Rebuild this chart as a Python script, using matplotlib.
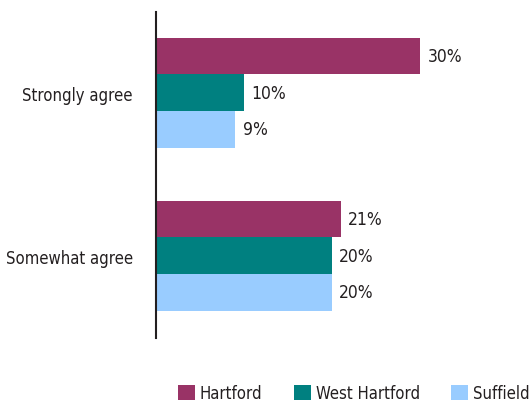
import matplotlib
matplotlib.use("Agg")
import matplotlib.pyplot as plt
import numpy as np
from matplotlib.patches import Patch

categories = ["Strongly agree", "Somewhat agree"]
series_names = ["Hartford", "West Hartford", "Suffield"]
hartford = [30, 21]
west_hartford = [10, 20]
suffield = [9, 20]
colors = ["#993366", "#008080", "#99ccff"]

plt.rcParams['font.family'] = ['DejaVu Sans']
plt.rcParams['font.stretch'] = 'condensed'
txt = "#231f20"
fs = 12

fig = plt.figure(figsize=(5.30, 4.02), dpi=100)
ax = fig.add_axes([155.7/530, 1-339/402, 352/530, 326/402])

y = np.arange(len(categories))
h = 0.225
for i, (vals, name, c) in enumerate(zip([hartford, west_hartford, suffield], series_names, colors)):
    pos = y + (i - 1) * h
    bars = ax.barh(pos, vals, height=h, color=c, label=name)
    for b, v in zip(bars, vals):
        ax.text(v + 0.87, b.get_y() + b.get_height()/2, f"{v}%", va='center', ha='left',
                fontsize=fs + 0.5, color=txt, fontstretch='condensed')

ax.set_xlim(0, 40)
ax.set_ylim(1.506, -0.494)
ax.set_yticks(y)
ax.set_yticklabels(categories, fontsize=fs, color=txt, fontstretch='condensed')
ax.tick_params(axis='y', length=0, pad=16.5)
ax.set_xticks([])
for s in ['top', 'right', 'bottom']:
    ax.spines[s].set_visible(False)
ax.spines['left'].set_color('#231f20')
ax.spines['left'].set_linewidth(1.5)

handles = [Patch(facecolor=c, edgecolor='none') for c in colors]
leg = fig.legend(handles, series_names, loc='lower left', bbox_to_anchor=(178/530, -1/402),
           ncol=3, frameon=False, handlelength=1.0, handleheight=1.0,
           handletextpad=0.3, columnspacing=1.9, labelcolor=txt,
           borderpad=0, borderaxespad=0,
           prop={'size': fs, 'stretch': 'condensed'})

fig.savefig("out.png", dpi=100)
